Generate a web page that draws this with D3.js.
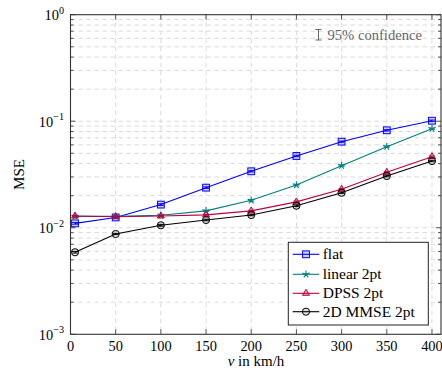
<!DOCTYPE html>
<html>
<head>
<meta charset="utf-8">
<script src="https://cdn.jsdelivr.net/npm/d3@7"></script>
<style>
  body { margin: 0; background: #fff; }
  svg { display: block; }
  text { font-family: "Liberation Serif", "Times New Roman", serif; fill: #000; }
</style>
</head>
<body>
<svg id="chart" width="442" height="383"></svg>
<script>
// Speeds (km/h) at which the MSE was evaluated
const speeds = [5, 50, 100, 150, 200, 250, 300, 350, 400];

// MSE per estimator
const flat    = [0.0110, 0.0125, 0.0165, 0.0238, 0.0339, 0.0472, 0.0643, 0.0822, 0.1011];
const linear  = [0.0128, 0.0128, 0.0131, 0.0144, 0.0181, 0.0252, 0.0383, 0.0577, 0.0851];
const dpss    = [0.0129, 0.0127, 0.0129, 0.0132, 0.0144, 0.0175, 0.0230, 0.0332, 0.0465];
const mmse2d  = [0.00589, 0.00874, 0.01055, 0.01183, 0.01318, 0.0161, 0.0213, 0.0306, 0.0423];

// Half-widths of the 95% confidence intervals
const ciFlat   = [0.0002, 0.0002, 0.0003, 0.0004, 0.0005, 0.0007, 0.0009, 0.0012, 0.0015];
const ciLinear = [0.0002, 0.0002, 0.0002, 0.0002, 0.0003, 0.0004, 0.0006, 0.0008, 0.0012];
const ciDpss   = [0.0002, 0.0002, 0.0002, 0.0002, 0.0002, 0.0003, 0.0004, 0.0005, 0.0007];
const ciMmse   = [0.0001, 0.0001, 0.0002, 0.0002, 0.0002, 0.0003, 0.0003, 0.0005, 0.0006];

// Axis ticks
const xTicks = [0, 50, 100, 150, 200, 250, 300, 350, 400];
const yExponents = [-3, -2, -1, 0];

const seriesNames = ["flat", "linear 2pt", "DPSS 2pt", "2D MMSE 2pt"];

const series = [
  { name: seriesNames[0], values: flat,   ci: ciFlat,   color: "#0000ff", marker: "square" },
  { name: seriesNames[1], values: linear, ci: ciLinear, color: "#008080", marker: "star" },
  { name: seriesNames[2], values: dpss,   ci: ciDpss,   color: "#bf0040", marker: "triangle" },
  { name: seriesNames[3], values: mmse2d, ci: ciMmse,   color: "#000000", marker: "circle" }
];

const svg = d3.select("#chart");
const L = 70.5, R = 441, T = 14.7, B = 334.3;

const x = d3.scaleLinear().domain([0, 410]).range([L, R]);
const y = d3.scaleLog().domain([1e-3, 1]).range([B, T]);

// Grid
const grid = svg.append("g").attr("stroke", "#d6d6d6").attr("stroke-width", 0.9)
  .attr("stroke-dasharray", "4.5,3.5").attr("fill", "none");
const minorY = [];
yExponents.slice(0, -1).forEach(e => {
  for (let m = 2; m <= 9; m++) minorY.push(m * Math.pow(10, e));
});
grid.selectAll("line.ym").data(minorY).join("line")
  .attr("x1", L).attr("x2", R).attr("y1", d => y(d)).attr("y2", d => y(d));
grid.selectAll("line.yM").data(yExponents.map(e => Math.pow(10, e)).slice(1, -1)).join("line")
  .attr("class", "yM")
  .attr("x1", L).attr("x2", R).attr("y1", d => y(d)).attr("y2", d => y(d));
grid.selectAll("line.xg").data(xTicks.slice(1)).join("line")
  .attr("class", "xg")
  .attr("x1", d => x(d)).attr("x2", d => x(d)).attr("y1", T).attr("y2", B);

// Inward ticks on all four sides
const ticks = svg.append("g").attr("stroke", "#444").attr("stroke-width", 0.9);
xTicks.forEach(v => {
  ticks.append("line").attr("x1", x(v)).attr("x2", x(v)).attr("y1", B).attr("y2", B - 5);
  ticks.append("line").attr("x1", x(v)).attr("x2", x(v)).attr("y1", T).attr("y2", T + 5);
});
yExponents.forEach(e => {
  const yy = y(Math.pow(10, e));
  ticks.append("line").attr("x1", L).attr("x2", L + 5).attr("y1", yy).attr("y2", yy);
  ticks.append("line").attr("x1", R).attr("x2", R - 5).attr("y1", yy).attr("y2", yy);
});
minorY.forEach(v => {
  ticks.append("line").attr("x1", L).attr("x2", L + 3).attr("y1", y(v)).attr("y2", y(v));
  ticks.append("line").attr("x1", R).attr("x2", R - 3).attr("y1", y(v)).attr("y2", y(v));
});

// Tick labels
svg.append("g").selectAll("text").data(xTicks).join("text")
  .attr("x", d => x(d)).attr("y", 350.5).attr("text-anchor", "middle")
  .attr("font-size", 14.4).text(d => d);

const yl = svg.append("g").selectAll("text").data(yExponents).join("text")
  .attr("x", 64).attr("y", d => y(Math.pow(10, d)) + 5.5).attr("text-anchor", "end")
  .attr("font-size", 14.4);
yl.append("tspan").text("10");
yl.append("tspan").attr("dy", -6.5).attr("font-size", 10.2)
  .text(d => d === 0 ? "0" : "\u2212" + Math.abs(d));

// Axis titles
const xt = svg.append("text").attr("x", 256).attr("y", 366).attr("text-anchor", "middle")
  .attr("font-size", 15);
xt.append("tspan").attr("font-style", "italic").text("v");
xt.append("tspan").text(" in km/h");

svg.append("text").attr("transform", "translate(19,174.5) rotate(-90)")
  .attr("text-anchor", "middle").attr("dy", "0.35em").attr("font-size", 15).text("MSE");

// Marker drawing
function drawMarker(g, type, color, cx, cy) {
  if (type === "square") {
    g.append("rect").attr("x", cx - 3.4).attr("y", cy - 3.4).attr("width", 6.8).attr("height", 6.8)
      .attr("fill", color).attr("fill-opacity", 0.18).attr("stroke", color).attr("stroke-width", 1);
  } else if (type === "star") {
    let d = "";
    for (let k = 0; k < 5; k++) {
      const a = -Math.PI / 2 + k * 2 * Math.PI / 5;
      d += `M${cx},${cy}L${cx + 3.8 * Math.cos(a)},${cy + 3.8 * Math.sin(a)}`;
    }
    g.append("path").attr("d", d).attr("stroke", color).attr("stroke-width", 1.1).attr("fill", "none");
  } else if (type === "triangle") {
    const r = 4;
    const pts = [[cx, cy - r], [cx - r * 0.866, cy + r * 0.5], [cx + r * 0.866, cy + r * 0.5]];
    g.append("path").attr("d", "M" + pts.map(p => p.join(",")).join("L") + "Z")
      .attr("fill", color).attr("fill-opacity", 0.3).attr("stroke", color).attr("stroke-width", 1);
  } else {
    g.append("circle").attr("cx", cx).attr("cy", cy).attr("r", 3.6)
      .attr("fill", "#000").attr("fill-opacity", 0.12).attr("stroke", color).attr("stroke-width", 1);
  }
}

// Series lines, confidence bars and markers
const line = d3.line().x((d, i) => x(speeds[i])).y(d => y(d));
const plot = svg.append("g");
series.forEach(s => {
  plot.append("path").attr("d", line(s.values)).attr("fill", "none")
    .attr("stroke", s.color).attr("stroke-width", 1.1);
});
series.forEach(s => {
  const g = plot.append("g");
  s.values.forEach((v, i) => {
    const cx = x(speeds[i]);
    const y1 = y(v - s.ci[i]), y2 = y(v + s.ci[i]);
    g.append("path").attr("d", `M${cx - 3},${y1}H${cx + 3}M${cx},${y1}V${y2}M${cx - 3},${y2}H${cx + 3}`)
      .attr("stroke", s.color).attr("stroke-width", 0.9).attr("fill", "none");
    drawMarker(g, s.marker, s.color, cx, y(v));
  });
});

// Frame
svg.append("rect").attr("x", L).attr("y", T).attr("width", R - L).attr("height", B - T)
  .attr("fill", "none").attr("stroke", "#333").attr("stroke-width", 1.1);

// Confidence-interval note
const ci = svg.append("g").attr("stroke", "#666").attr("stroke-width", 1);
ci.append("path").attr("d", "M315.5,29.5H321.5M318.5,29.5V40M315.5,40H321.5").attr("fill", "none");
svg.append("text").attr("x", 327.5).attr("y", 40).attr("font-size", 14.6).style("fill", "#666")
  .text("95% confidence");

// Legend
const lg = svg.append("g");
lg.append("rect").attr("x", 288.3).attr("y", 242.3).attr("width", 140).attr("height", 82.7)
  .attr("fill", "#fff").attr("stroke", "#222").attr("stroke-width", 1);
const rowY = [254.3, 274.3, 293.3, 311.7];
series.forEach((s, i) => {
  const cy = rowY[i];
  lg.append("line").attr("x1", 292.7).attr("x2", 319.3).attr("y1", cy).attr("y2", cy)
    .attr("stroke", s.color).attr("stroke-width", 1.1);
  drawMarker(lg, s.marker, s.color, 306, cy);
  lg.append("text").attr("x", 322.7).attr("y", cy + 5).attr("font-size", 15.5).text(s.name);
});
</script>
</body>
</html>
